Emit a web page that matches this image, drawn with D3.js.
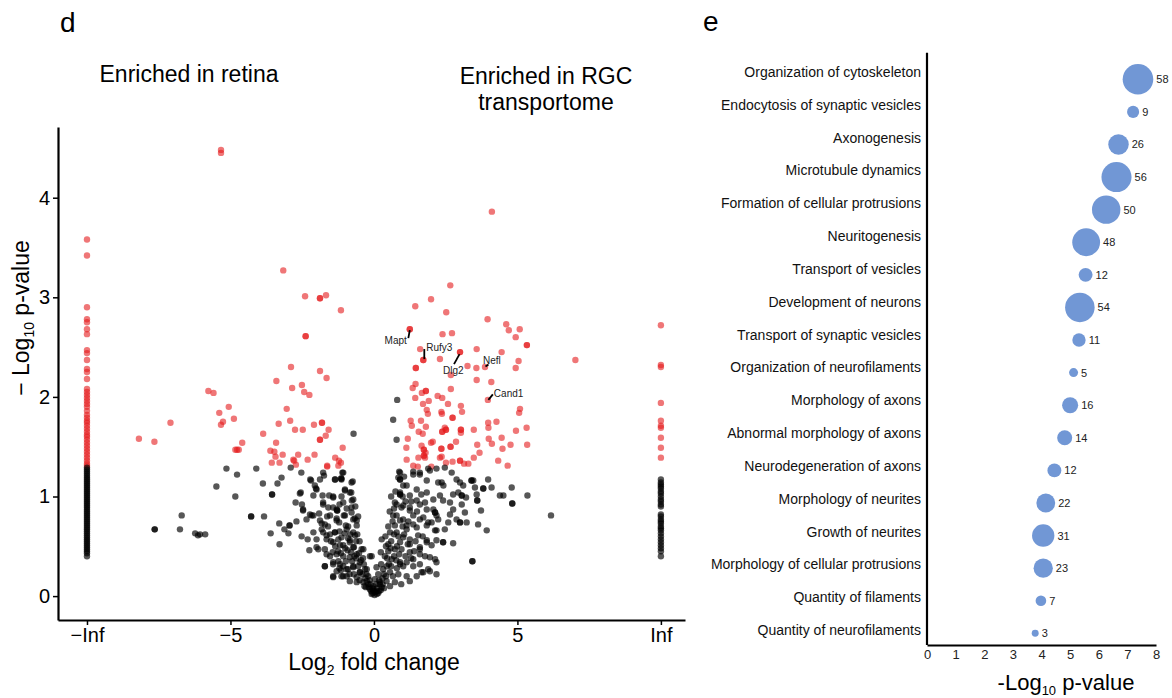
<!DOCTYPE html>
<html><head><meta charset="utf-8">
<script src="https://cdn.jsdelivr.net/npm/d3@7"></script>
<style>
body{margin:0;background:#fff}
svg{display:block}
text{font-family:"Liberation Sans",Arial,Helvetica,sans-serif}
</style>
</head><body>
<svg id="c" width="1172" height="698"></svg>
<script>
// ---------------- DATA: panel d (volcano) ----------------
// -log10 p-values of proteins detected only in retina (log2FC = -Inf)
const negInfP = [3.58,3.42,2.90,2.78,2.75,2.68,2.63,2.47,2.44,2.37,2.28,2.25,2.18,2.08,2.05,2.02,1.99,1.96,1.93,1.90,1.86,1.82,1.79,1.76,1.74,1.71,1.68,1.65,1.62,1.60,1.57,1.54,1.51,1.48,1.45,1.42,1.39,1.36,1.33,1.31,
  1.29,1.27,1.25,1.23,1.21,1.19,1.17,1.15,1.13,1.11,1.09,1.07,1.05,1.03,1.01,0.99,0.97,0.95,0.93,0.91,0.89,0.87,0.85,0.83,0.81,0.79,0.77,0.75,0.73,0.71,0.69,0.67,0.65,0.63,0.61,0.59,0.57,0.55,0.53,0.51,0.49,0.47,0.45,0.43,0.40];
// -log10 p-values of proteins detected only in RGC transportome (log2FC = +Inf)
const posInfP = [2.72,2.32,2.30,1.94,1.76,1.71,1.69,1.59,1.49,1.39,
  1.17,1.14,1.12,1.10,1.08,1.05,1.03,1.00,0.97,0.95,0.92,0.90,0.82,0.80,0.77,0.75,0.73,0.70,0.68,0.66,0.63,0.60,0.57,0.54,0.51,0.48,0.45,0.40];
// finite points [log2 fold change, -log10 p-value]
const finitePoints = [
  // retina side, significant
  [-5.33,4.48],[-5.33,4.45],[-3.16,3.27],[-2.40,3.01],[-1.88,2.99],[-1.88,2.99],[-1.67,3.02],[-1.15,2.87],[-2.38,2.61],[-2.38,2.61],
  [-2.89,2.30],[-3.40,2.16],[-1.88,2.26],[-1.65,2.19],[-2.85,2.09],[-2.51,2.12],[-2.43,2.05],[-2.25,2.02],[-5.77,2.06],[-5.59,2.04],
  [-5.06,1.90],[-5.39,1.84],[-4.88,1.78],[-5.26,1.75],[-5.33,1.72],[-3.04,1.88],[-2.92,1.76],[-3.32,1.73],[-2.09,1.72],[-1.81,1.74],
  [-1.81,1.74],[-1.58,1.67],[-2.75,1.67],[-2.48,1.67],[-3.86,1.63],[-7.09,1.74],[-8.19,1.58],[-7.65,1.55],[-1.68,1.61],[-1.88,1.57],
  [-1.88,1.57],[-4.59,1.54],[-3.41,1.54],[-4.83,1.47],[-4.71,1.47],[-4.77,1.47],[-3.61,1.46],[-3.47,1.45],[-1.09,1.49],[-3.18,1.42],
  [-2.64,1.42],[-2.07,1.42],[-3.43,1.40],[-2.81,1.37],[-2.78,1.36],[-2.31,1.37],[-1.35,1.39],[-1.22,1.36],[-1.15,1.34],[-3.56,1.34],
  [-3.29,1.34],[-2.72,1.32],[-1.63,1.30],[-1.63,1.31],[-1.24,1.31],
  // retina side, not significant
  [-0.71,1.63],[-5.14,1.28],[-4.10,1.28],[-5.49,1.10],[-4.77,1.22],[-4.83,1.00],[-3.87,1.13],[-3.55,1.02],[-3.55,1.02],[-3.36,1.13],
  [-3.22,1.19],[-2.90,1.29],[-2.53,1.24],[-6.70,0.81],[-6.76,0.67],[-7.64,0.67],[-7.64,0.67],[-6.23,0.63],[-6.13,0.61],[-6.06,0.62],
  [-5.88,0.62],[-4.28,0.80],[-4.28,0.80],[-3.83,0.80],[-3.30,0.73],[-3.12,0.67],[-2.98,0.63],[-2.94,0.71],[-2.94,0.71],[-3.60,0.63],
  [-3.29,0.52],[-2.70,0.75],[-2.73,0.94],[-2.51,0.92],[-2.58,1.03],[-2.55,1.04],[-2.47,0.86],[-2.47,0.87],[-2.35,0.77],[-2.52,0.60],
  [-2.31,0.57],[-2.25,0.46],[-2.22,1.17],[-2.19,1.16],[-2.02,1.08],[-2.00,1.07],[-1.79,1.01],[-1.77,0.92],[-1.88,1.17],[-1.74,1.21],
  [-1.35,1.17],[-1.14,1.18],[-1.14,1.18],[-1.10,1.24],[-0.74,1.15],[-1.01,1.07],[-0.79,1.04],[-1.56,1.01],[-1.42,1.00],[-1.13,1.00],
  [-0.77,0.96],[-1.42,0.89],[-1.28,0.86],[-1.28,0.86],[-2.23,0.82],[-2.11,0.81],[-1.91,0.83],[-1.63,0.80],[-1.82,0.73],[-1.71,0.72],
  [-1.30,0.78],[-1.21,0.74],[-1.05,0.81],[-0.78,0.84],[-0.67,0.78],[-0.60,0.76],[-0.98,0.71],[-0.90,0.70],[-1.77,0.64],[-1.53,0.62],
  [-2.00,0.57],[-1.65,0.57],[-1.36,0.64],[-1.24,0.57],[-1.94,0.47],[-1.65,0.42],[-1.44,0.44],[-1.18,0.51],[-0.72,0.64],[-0.58,0.62],
  [-0.84,0.54],[-0.70,0.49],[-0.43,0.47],[-1.71,0.30],[-1.42,0.32],[-1.24,0.35],[-1.07,0.30],[-0.90,0.27],[-0.72,0.29],[-0.49,0.24],
  [-0.31,0.27],[-0.20,0.20],[-0.14,0.40],[-1.42,0.20],[-1.13,0.20],
  [-2.06,1.11],[-1.77,1.24],[-1.36,1.17],[-1.13,1.17],[-1.07,1.24],[-1.01,1.06],[-0.78,1.14],[-0.84,1.04],[-2.11,1.01],[-1.77,0.94],
  [-1.42,0.99],[-1.59,0.89],[-1.30,0.87],[-1.07,0.94],[-0.72,0.97],[-0.78,0.89],[-2.17,0.81],[-1.88,0.76],[-1.53,0.81],[-1.30,0.76],
  [-1.01,0.81],[-0.72,0.77],[-0.95,0.67],[-0.60,0.71],[-0.66,0.61],[-2.11,0.64],[-1.82,0.67],[-1.65,0.61],[-1.36,0.64],[-1.13,0.59],
  [-1.42,0.54],[-0.84,0.56],[-1.07,0.51],[-0.72,0.49],[-2.00,0.49],[-1.71,0.47],[-1.53,0.40],[-1.30,0.42],[-1.07,0.40],[-0.84,0.39],
  [-0.60,0.42],[-0.49,0.34],[-0.37,0.47],[-1.71,0.30],[-1.42,0.34],[-1.18,0.32],[-0.95,0.27],[-0.72,0.30],[-0.49,0.24],[-0.25,0.27],
  [-1.42,0.19],[-1.07,0.20],[-0.84,0.15],[-0.60,0.19],[-0.37,0.14],[-0.20,0.12],[-0.14,0.07],[-0.08,0.02],[-0.08,0.40],
  [-1.25,0.45],[-1.00,0.48],[-0.80,0.44],[-0.62,0.38],[-0.55,0.30],[-0.40,0.22],[-0.30,0.18],[-1.30,0.25],[-1.15,0.26],[-0.98,0.35],
  [-0.76,0.35],[-0.90,0.58],[-1.20,0.65],[-0.50,0.55],[-0.45,0.36],[-0.35,0.32],[-0.28,0.09],[-0.15,0.16],[-0.60,0.14],[-0.85,0.22],
  [-1.50,0.55],[-1.60,0.70],[-1.20,0.92],[-0.95,0.88],[-0.65,0.90],[-0.55,0.80],
  [-1.15,0.43],[-0.92,0.46],[-0.68,0.40],[-0.52,0.43],[-0.38,0.38],[-0.26,0.22],[-0.12,0.12],[-0.33,0.10],[-0.50,0.16],[-0.70,0.22],
  [-0.95,0.20],[-1.20,0.28],[-0.62,0.55],[-0.82,0.62],[-1.02,0.63],[-1.35,0.50],
  [-0.05,0.03],[0.02,0.01],[0.05,0.04],[-0.10,0.05],[0.12,0.08],[0.15,0.03],[-0.18,0.09],[0.20,0.12],[-0.25,0.15],[0.30,0.18],
  [0.08,0.12],[-0.02,0.10],[0.00,0.05],[0.10,0.02],[-0.06,0.08],[0.18,0.16],[0.24,0.06],
  // transportome side, significant
  [4.11,3.86],[2.66,3.12],[1.99,2.98],[1.44,2.91],[2.52,2.85],[3.96,2.78],[4.61,2.73],[4.70,2.67],[5.08,2.68],[4.94,2.60],
  [5.33,2.52],[5.33,2.52],[1.25,2.68],[1.25,2.68],[2.39,2.63],[2.72,2.64],[1.61,2.48],[1.72,2.37],[1.72,2.37],[3.00,2.45],
  [3.00,2.45],[2.30,2.38],[3.58,2.48],[4.45,2.45],[1.46,2.29],[1.46,2.29],[3.26,2.31],[3.57,2.29],[3.87,2.30],[5.04,2.36],
  [4.94,2.29],[7.02,2.37],[2.68,2.22],[3.58,2.17],[4.09,2.15],[1.45,2.13],[1.35,2.09],[2.68,2.08],[1.67,2.04],[1.81,2.06],
  [1.81,2.06],[2.22,2.01],[2.38,1.99],[3.97,1.97],[1.44,1.99],[1.91,1.96],[1.71,1.93],[2.58,1.93],[3.03,1.91],[3.07,1.85],
  [1.84,1.87],[1.88,1.83],[2.35,1.85],[2.37,1.83],[5.09,1.88],[5.06,1.84],[2.74,1.79],[2.74,1.79],[1.28,1.76],[1.32,1.71],
  [1.64,1.76],[1.81,1.70],[2.47,1.69],[2.51,1.67],[2.51,1.67],[3.98,1.74],[3.99,1.69],[4.27,1.75],[3.03,1.67],[3.03,1.67],
  [3.03,1.64],[3.48,1.67],[2.38,1.65],[2.38,1.65],[1.56,1.65],[1.70,1.63],[4.95,1.66],[5.32,1.69],[1.18,1.58],[1.13,1.49],
  [1.99,1.54],[2.05,1.55],[2.86,1.55],[4.00,1.58],[4.11,1.53],[4.45,1.59],[1.66,1.51],[1.74,1.47],[1.74,1.47],[1.80,1.44],
  [2.35,1.48],[2.35,1.48],[2.67,1.50],[2.67,1.50],[3.60,1.52],[3.68,1.44],[4.48,1.48],[4.76,1.52],[5.34,1.52],[1.14,1.37],
  [1.55,1.39],[1.74,1.41],[1.74,1.41],[1.78,1.39],[2.30,1.39],[2.36,1.40],[3.48,1.39],[1.37,1.31],[1.53,1.30],[2.00,1.30],
  [2.51,1.34],[2.74,1.35],[3.00,1.36],[3.00,1.36],[3.14,1.33],[3.29,1.33],[4.33,1.36],[4.66,1.31],
  // transportome side, not significant
  [0.81,1.97],[0.67,1.77],[0.79,1.57],[6.17,0.81],[5.35,1.01],[4.80,1.09],[4.82,0.93],[4.82,0.93],[4.39,1.01],[4.51,1.01],
  [3.98,1.17],[4.10,1.09],[3.52,1.09],[3.81,1.08],[3.81,1.08],[3.58,1.02],[3.60,0.96],[3.60,0.96],[3.73,0.86],[3.46,1.16],
  [3.93,0.66],[3.63,0.72],[3.00,0.74],[3.00,0.74],[3.23,0.74],[2.76,0.53],[3.43,0.35],[3.43,0.35],[2.65,0.82],[2.59,0.74],
  [3.06,0.92],[3.17,0.84],[2.76,1.02],[2.94,1.04],[3.06,1.01],[3.06,1.01],[3.21,0.99],[2.88,1.17],[3.00,1.14],[3.11,1.11],
  [3.40,1.16],[3.40,1.16],[2.36,1.14],[2.42,1.11],[2.71,1.24],[2.18,1.28],[2.47,1.29],[1.89,1.28],[1.60,1.22],[1.37,1.25],
  [0.88,1.25],[0.91,1.17],[0.91,1.17],[1.02,1.11],[1.49,1.07],[0.91,1.02],[0.91,1.02],[1.25,1.01],[1.84,1.04],[2.07,0.97],
  [2.30,1.01],[2.41,0.96],[0.79,0.92],[0.96,0.89],[1.25,0.89],[1.60,0.92],[1.84,0.87],[2.65,0.94],[2.76,0.87],[2.88,0.77],
  [2.13,0.84],[2.13,0.84],[2.24,0.77],[2.01,0.74],[0.79,0.81],[1.02,0.77],[1.37,0.81],[1.72,0.79],[0.73,0.71],[1.14,0.67],
  [1.49,0.69],[1.84,0.71],[2.18,0.66],[2.47,0.67],[2.41,0.54],[2.41,0.54],[2.18,0.56],[1.84,0.54],[1.60,0.49],[1.25,0.52],
  [0.91,0.54],[1.60,0.42],[1.95,0.39],[1.37,0.37],[0.91,0.34],[2.18,0.34],[1.95,0.25],[1.66,0.24],
  [0.85,1.19],[0.91,1.24],[0.91,1.04],[1.14,1.11],[1.37,1.22],[1.60,1.24],[1.84,1.16],[1.95,1.26],[2.24,1.14],[0.73,0.94],
  [1.02,0.91],[1.25,0.86],[1.49,0.96],[1.78,0.94],[2.07,0.87],[2.18,0.81],[0.67,0.81],[0.91,0.76],[1.14,0.71],[1.37,0.72],
  [1.60,0.77],[1.89,0.74],[2.13,0.66],[0.56,0.64],[0.79,0.64],[1.02,0.59],[1.25,0.57],[1.54,0.61],[1.84,0.56],[2.01,0.51],
  [0.27,0.57],[0.50,0.52],[0.73,0.47],[0.96,0.47],[1.25,0.44],[1.60,0.47],[1.78,0.40],[2.13,0.37],[0.38,0.40],[0.62,0.37],
  [0.91,0.32],[1.14,0.34],[1.37,0.30],[1.60,0.32],[1.89,0.27],[2.18,0.22],[0.09,0.29],[0.32,0.27],[0.56,0.24],[0.85,0.22],
  [1.14,0.20],[1.49,0.20],[1.72,0.24],[0.03,0.17],[0.21,0.14],[0.44,0.15],[0.73,0.14],[1.25,0.15],[-0.02,0.07],[0.09,0.05],
  [0.27,0.09],[0.56,0.10],
  [0.15,0.22],[0.25,0.32],[0.35,0.22],[0.45,0.30],[0.60,0.30],[0.70,0.40],[0.80,0.50],[0.50,0.45],[0.40,0.60],[0.60,0.55],
  [0.50,0.70],[0.65,0.75],[0.70,0.88],[0.55,0.85],[0.60,1.00],[0.75,1.05],[1.00,1.00],[1.10,0.95],[1.30,0.95],[1.05,0.62],
  [1.20,0.75],[1.45,0.55],[1.70,0.60],[1.10,0.40],[1.30,0.38],[0.95,0.12],[0.80,0.28],[0.35,0.08],[0.18,0.05],[1.50,0.85],
  [1.65,1.02],[1.05,1.20],
  [0.30,0.12],[0.42,0.20],[0.52,0.32],[0.66,0.20],[0.78,0.36],[0.88,0.42],[1.02,0.30],[0.46,0.38],[0.58,0.48],[0.85,0.60],
  [1.00,0.70],[1.18,0.52],[1.40,0.45],[0.70,0.62],[0.42,0.50],[0.24,0.44]
];
// labelled genes [name, log2FC, -log10 p]
const geneLabels = [["Mapt",1.25,2.68],["Rufy3",1.72,2.37],["Dlg2",3.00,2.45],["Nefl",3.87,2.30],["Cand1",3.97,1.97]];
const xTickValues = [-10,-5,0,5,10];
const xTickLabels = ["\u2212Inf","\u22125","0","5","Inf"];
const yTickValues = [0,1,2,3,4];
const pCut = 1.3, fcCut = 1, infPos = 10;

// ---------------- DATA: panel e (bubble) ----------------
const functions = ["Organization of cytoskeleton","Endocytosis of synaptic vesicles","Axonogenesis","Microtubule dynamics",
  "Formation of cellular protrusions","Neuritogenesis","Transport of vesicles","Development of neurons",
  "Transport of synaptic vesicles","Organization of neurofilaments","Morphology of axons","Abnormal morphology of axons",
  "Neurodegeneration of axons","Morphology of neurites","Growth of neurites","Morphology of cellular protrusions",
  "Quantity of filaments","Quantity of neurofilaments"];
const negLogP = [7.37,7.20,6.69,6.62,6.26,5.56,5.54,5.34,5.31,5.12,5.00,4.81,4.45,4.15,4.06,4.06,3.98,3.78];
const geneCounts = [58,9,26,56,50,48,12,54,11,5,16,14,12,22,31,23,7,3];
const bubbleTicks = [0,1,2,3,4,5,6,7,8];

// ---------------- DRAW ----------------
const svg = d3.select("#c");
const FONT = '"Liberation Sans",Arial,sans-serif';

// ---- panel d ----
const xL = d3.scaleLinear().domain([-11.01,10.84]).range([58,685]);
const yL = d3.scaleLinear().domain([-0.24,4.71]).range([620,127]);
const pts = [];
negInfP.forEach(p => pts.push([-Infinity,p]));
posInfP.forEach(p => pts.push([Infinity,p]));
finitePoints.forEach(d => pts.push(d));
const fcPos = v => v === -Infinity ? -infPos : (v === Infinity ? infPos : v);
const sig = d => d[1] >= pCut && Math.abs(d[0]) > fcCut;

const gd = svg.append("g");
gd.selectAll("circle.pt").data(pts).join("circle")
  .attr("class","pt")
  .attr("cx", d => xL(fcPos(d[0])))
  .attr("cy", d => yL(d[1]))
  .attr("r", 3.2)
  .attr("fill", d => sig(d) ? "#e41a1c" : "#000")
  .attr("fill-opacity", d => sig(d) ? 0.6 : 0.66);

// gene labels with short leader segments
geneLabels.forEach(g => {
  const px = xL(g[1]), py = yL(g[2]);
  let tx, ty;
  if (g[0]==="Mapt"){ gd.append("line").attr("x1",px).attr("y1",py+1).attr("x2",px-1.5).attr("y2",py+9); tx=px-3; ty=py+15; }
  else if (g[0]==="Rufy3"){ gd.append("line").attr("x1",px+1).attr("y1",py-1).attr("x2",px+1).attr("y2",py-11); tx=px+3; ty=py-9.5; }
  else if (g[0]==="Dlg2"){ gd.append("line").attr("x1",px-0.5).attr("y1",py+2).attr("x2",px-6).attr("y2",py+12); tx=px-17; ty=py+21.5; }
  else if (g[0]==="Nefl"){ gd.append("line").attr("x1",px+0.5).attr("y1",py-0.5).attr("x2",px+3.5).attr("y2",py-2.5); tx=px-2; ty=py-3.5; }
  else { gd.append("line").attr("x1",px+0.5).attr("y1",py).attr("x2",px+5).attr("y2",py-5.5); tx=px+6; ty=py-3; }
  gd.append("text").attr("x",tx).attr("y",ty).attr("font-size",10).attr("fill","#222")
    .attr("text-anchor", g[0]==="Mapt" ? "end" : "start").text(g[0]);
});
gd.selectAll("line").attr("stroke","#000").attr("stroke-width",1.8);

// axes
const ax = gd.append("g").attr("transform","translate(0,620)")
  .call(d3.axisBottom(xL).tickValues(xTickValues).tickFormat((d,i)=>xTickLabels[i]).tickSize(5).tickSizeOuter(0).tickPadding(3));
const ay = gd.append("g").attr("transform","translate(58,0)")
  .call(d3.axisLeft(yL).tickValues(yTickValues).tickFormat(d3.format("d")).tickSize(5).tickSizeOuter(0).tickPadding(3));
[ax,ay].forEach(a => {
  a.select(".domain").attr("stroke","#000").attr("stroke-width",2.2);
  a.selectAll(".tick line").attr("stroke","#000").attr("stroke-width",1.5);
  a.selectAll(".tick text").attr("font-family",FONT).attr("font-size",20).attr("fill","#000");
});

// titles
const xt = gd.append("text").attr("x",374).attr("y",670).attr("text-anchor","middle").attr("font-size",23).attr("fill","#000");
xt.append("tspan").text("Log");
xt.append("tspan").attr("font-size",14).attr("dy",5).text("2");
xt.append("tspan").attr("dy",-5).text(" fold change");

const yt = gd.append("text").attr("transform","translate(29,318) rotate(-90)").attr("text-anchor","middle").attr("font-size",23).attr("fill","#000");
yt.append("tspan").text("\u2212 Log");
yt.append("tspan").attr("font-size",14).attr("dy",5).text("10");
yt.append("tspan").attr("dy",-5).text(" p-value");

gd.append("text").attr("x",189).attr("y",82).attr("text-anchor","middle").attr("font-size",23).text("Enriched in retina");
gd.append("text").attr("x",546).attr("y",84).attr("text-anchor","middle").attr("font-size",23).text("Enriched in RGC");
gd.append("text").attr("x",546).attr("y",110).attr("text-anchor","middle").attr("font-size",23).text("transportome");
svg.append("text").attr("x",60).attr("y",32).attr("font-size",28).text("d");
svg.append("text").attr("x",703).attr("y",31).attr("font-size",28).text("e");

// ---- panel e ----
const xR = d3.scaleLinear().domain([0,8]).range([927,1156]);
const yR = d3.scalePoint().domain(functions).range([52.7,645]).padding(0.587).align(0.695);
const yLab = d3.scalePoint().domain(functions).range([72,630]);
const rR = d3.scaleSqrt().domain([0,58]).range([0,15.3]);
const ge = svg.append("g");
const rows = functions.map((f,i)=>({f, v:negLogP[i], n:geneCounts[i]}));
ge.selectAll("circle").data(rows).join("circle")
  .attr("cx", d => xR(d.v)).attr("cy", d => yR(d.f)).attr("r", d => rR(d.n))
  .attr("fill","#7197d5");
ge.selectAll("text.cnt").data(rows).join("text").attr("class","cnt")
  .attr("x", d => xR(d.v) + rR(d.n) + 3).attr("y", d => yR(d.f) + 4)
  .attr("font-size",11).attr("fill","#222").text(d => d.n);

// category labels (axis on the label scale) + axis line spanning the bubble scale range
const ery = ge.append("g").attr("transform","translate(927,0)")
  .call(d3.axisLeft(yLab).tickSize(0).tickPadding(6).tickSizeOuter(0));
ery.selectAll(".tick text").attr("font-family",FONT).attr("font-size",14).attr("fill","#111").attr("dy","0.32em");
ery.select(".domain").remove();
ge.append("line").attr("x1",xR(0)).attr("x2",xR(0)).attr("y1",yR.range()[0]).attr("y2",yR.range()[1])
  .attr("stroke","#000").attr("stroke-width",2.2);
const erx = ge.append("g").attr("transform","translate(0,645)")
  .call(d3.axisBottom(xR).tickValues(bubbleTicks).tickSize(0).tickSizeOuter(0).tickPadding(5));
erx.selectAll(".tick text").attr("font-family",FONT).attr("font-size",13).attr("fill","#222");
erx.select(".domain").attr("stroke","#000").attr("stroke-width",2.2);

const et = ge.append("text").attr("x",1066).attr("y",690).attr("text-anchor","middle").attr("font-size",22).attr("fill","#000");
et.append("tspan").text("-Log");
et.append("tspan").attr("font-size",13).attr("dy",5).text("10");
et.append("tspan").attr("dy",-5).text(" p-value");
</script>
</body></html>
